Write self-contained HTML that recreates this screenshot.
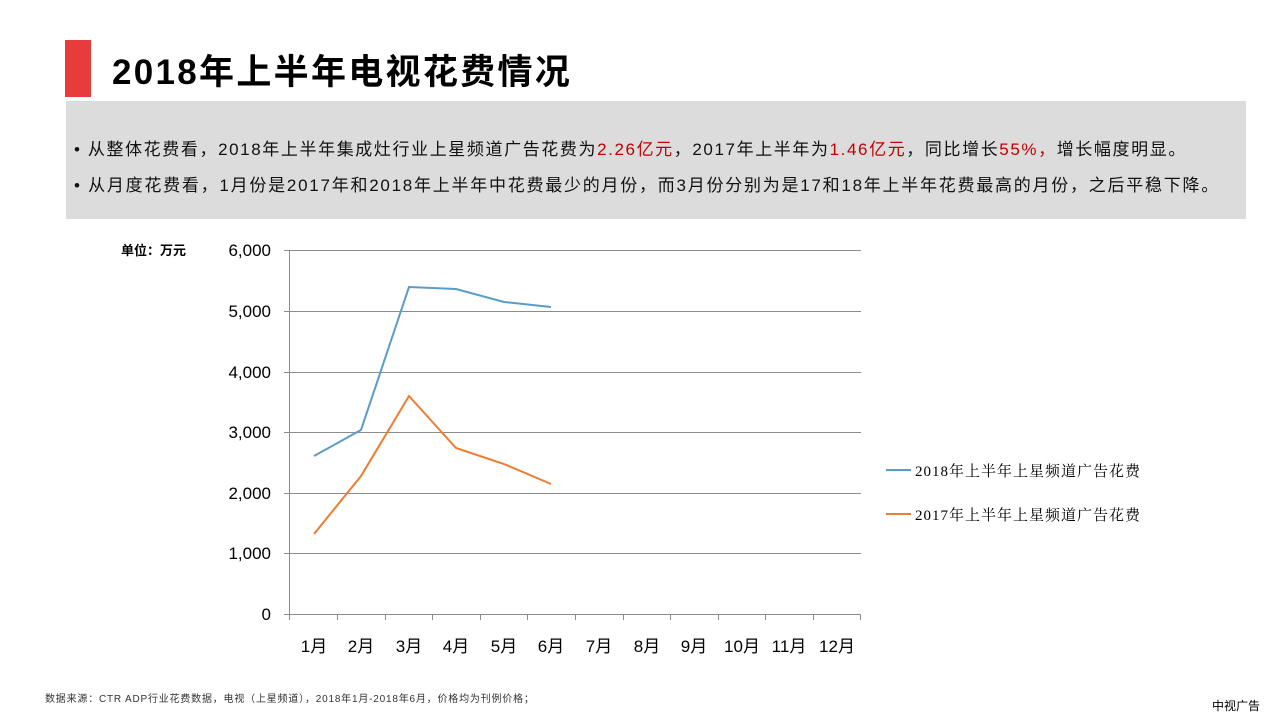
<!DOCTYPE html>
<html><head><meta charset="utf-8"><style>
body{margin:0;width:1280px;height:720px;background:#fff;overflow:hidden;position:relative;font-family:"Liberation Sans","Noto Sans CJK SC",sans-serif}
.red{position:absolute;left:65px;top:40px;width:26px;height:57px;background:#e83b3b}
.title{position:absolute;left:112px;top:44px;font-size:35px;font-weight:bold;color:#000;letter-spacing:2.3px}
.box{position:absolute;left:66px;top:101px;width:1180px;height:118px;background:#dcdcdc}
.box p{margin:0;position:absolute;left:8px;font-size:17px;color:#111;white-space:nowrap;letter-spacing:1.6px}
.r{color:#c00000}
.src{position:absolute;left:45px;top:690px;font-size:10px;color:#333;letter-spacing:0.8px}
.brand{position:absolute;left:1212px;top:697px;font-size:12px;color:#000}
</style></head><body>
<div class="red"></div>
<div class="title">2018年上半年电视花费情况</div>
<div class="box">
<p style="top:34px">• 从整体花费看，2018年上半年集成灶行业上星频道广告花费为<span class="r">2.26亿元</span>，2017年上半年为<span class="r">1.46亿元</span>，同比增长<span class="r">55%，</span>增长幅度明显。</p>
<p style="top:70px;letter-spacing:1.75px">• 从月度花费看，1月份是2017年和2018年上半年中花费最少的月份，而3月份分别为是17和18年上半年花费最高的月份，之后平稳下降。</p>
</div>
<svg width="1280" height="720" style="position:absolute;left:0;top:0" font-family="Liberation Sans,Noto Sans CJK SC,sans-serif">
<text x="121" y="255" font-size="13" font-weight="bold">单位：万元</text>
<g stroke="#8c8c8c" stroke-width="1">
<line x1="284" y1="250.5" x2="861" y2="250.5"/>
<line x1="284" y1="311.5" x2="861" y2="311.5"/>
<line x1="284" y1="372.5" x2="861" y2="372.5"/>
<line x1="284" y1="432.5" x2="861" y2="432.5"/>
<line x1="284" y1="493.5" x2="861" y2="493.5"/>
<line x1="284" y1="553.5" x2="861" y2="553.5"/>
<line x1="284" y1="614.5" x2="861" y2="614.5"/>
<line x1="289.5" y1="250" x2="289.5" y2="620"/>
<line x1="337.5" y1="614" x2="337.5" y2="620"/><line x1="385.5" y1="614" x2="385.5" y2="620"/>
<line x1="432.5" y1="614" x2="432.5" y2="620"/><line x1="480.5" y1="614" x2="480.5" y2="620"/>
<line x1="527.5" y1="614" x2="527.5" y2="620"/><line x1="575.5" y1="614" x2="575.5" y2="620"/>
<line x1="623.5" y1="614" x2="623.5" y2="620"/><line x1="670.5" y1="614" x2="670.5" y2="620"/>
<line x1="718.5" y1="614" x2="718.5" y2="620"/><line x1="765.5" y1="614" x2="765.5" y2="620"/>
<line x1="813.5" y1="614" x2="813.5" y2="620"/><line x1="860.5" y1="614" x2="860.5" y2="620"/>
</g>
<g font-size="17" text-anchor="end" fill="#000">
<text x="271" y="256">6,000</text><text x="271" y="317">5,000</text><text x="271" y="378">4,000</text>
<text x="271" y="438">3,000</text><text x="271" y="499">2,000</text><text x="271" y="559">1,000</text><text x="271" y="620">0</text>
</g>
<g font-size="17" text-anchor="middle" fill="#000">
<text x="314" y="652">1月</text><text x="361" y="652">2月</text><text x="409" y="652">3月</text><text x="456" y="652">4月</text>
<text x="504" y="652">5月</text><text x="551" y="652">6月</text><text x="599" y="652">7月</text><text x="647" y="652">8月</text>
<text x="694" y="652">9月</text><text x="742" y="652">10月</text><text x="789" y="652">11月</text><text x="837" y="652">12月</text>
</g>
<polyline fill="none" stroke="#5b9bc8" stroke-width="2" points="314,456 361,430 409,287 456,289 504,302 551,307"/>
<polyline fill="none" stroke="#ed7d31" stroke-width="2" points="314,534 361,476 409,396 456,448 504,464 551,484"/>
<line x1="886" y1="470" x2="911" y2="470" stroke="#5b9bc8" stroke-width="2"/>
<line x1="886" y1="514" x2="911" y2="514" stroke="#ed7d31" stroke-width="2"/>
<g font-size="15" letter-spacing="1" font-family="Liberation Serif,Noto Serif CJK SC,serif"><text x="915" y="476">2018年上半年上星频道广告花费</text><text x="915" y="520">2017年上半年上星频道广告花费</text></g>
</svg>
<div class="src">数据来源：CTR ADP行业花费数据，电视（上星频道），2018年1月-2018年6月，价格均为刊例价格；</div>
<div class="brand">中视广告</div>
</body></html>
